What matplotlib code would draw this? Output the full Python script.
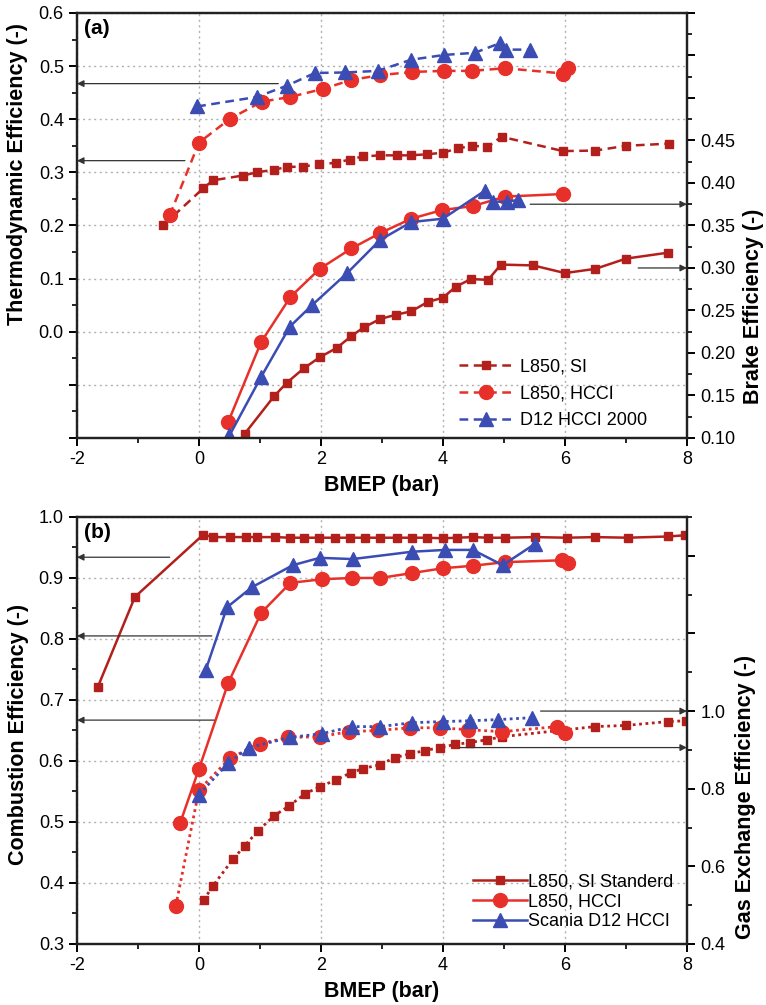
"""Thermodynamic / brake and combustion / gas-exchange efficiency vs BMEP."""
import matplotlib

matplotlib.use("Agg")
import matplotlib.pyplot as plt
from matplotlib.ticker import MultipleLocator, FuncFormatter

plt.rcParams["font.family"] = ["Liberation Sans", "DejaVu Sans"]

DARK_RED = "#b3201c"
RED = "#e8302a"
BLUE = "#3b4cb3"

# ---- panel (a): thermodynamic efficiency (left axis, dashed) ----
si_thermo_x = [-0.59, 0.07, 0.23, 0.72, 0.95, 1.23, 1.44, 1.70, 1.97, 2.24, 2.47, 2.69, 2.97,
               3.25, 3.47, 3.74, 4.00, 4.24, 4.48, 4.73, 4.96, 5.97, 6.50, 7.00, 7.70]
si_thermo_y = [0.200, 0.270, 0.285, 0.294, 0.300, 0.305, 0.310, 0.311, 0.315, 0.318, 0.324, 0.330,
               0.332, 0.332, 0.332, 0.334, 0.337, 0.345, 0.350, 0.348, 0.367, 0.340, 0.341, 0.350, 0.354]
hcci_thermo_x = [-0.48, 0.00, 0.51, 1.03, 1.50, 2.03, 2.50, 2.97, 3.50, 4.02, 4.48, 5.02, 5.97, 6.05]
hcci_thermo_y = [0.219, 0.356, 0.401, 0.433, 0.442, 0.457, 0.474, 0.483, 0.489, 0.491, 0.491, 0.496,
                 0.486, 0.497]
d12_thermo_x = [-0.03, 0.95, 1.44, 1.90, 2.40, 2.93, 3.48, 4.02, 4.52, 4.93, 5.03, 5.43]
d12_thermo_y = [0.424, 0.442, 0.463, 0.487, 0.488, 0.491, 0.512, 0.521, 0.525, 0.543, 0.531, 0.531]

# ---- panel (a): brake efficiency (right axis, solid) ----
si_brake_x = [0.75, 1.23, 1.44, 1.72, 1.98, 2.26, 2.50, 2.70, 2.97, 3.23, 3.48, 3.75, 4.00, 4.21,
              4.46, 4.74, 4.95, 5.48, 6.00, 6.50, 7.00, 7.69]
si_brake_y = [0.105, 0.149, 0.165, 0.182, 0.195, 0.206, 0.220, 0.230, 0.240, 0.245, 0.249, 0.260,
              0.265, 0.278, 0.287, 0.286, 0.304, 0.303, 0.294, 0.299, 0.311, 0.318]
hcci_brake_x = [0.48, 1.02, 1.50, 1.98, 2.50, 2.97, 3.48, 3.98, 4.50, 5.02, 5.97]
hcci_brake_y = [0.119, 0.213, 0.266, 0.299, 0.323, 0.341, 0.358, 0.368, 0.373, 0.384, 0.387]
d12_brake_x = [0.50, 1.02, 1.49, 1.85, 2.43, 2.97, 3.48, 4.00, 4.69, 4.82, 5.05, 5.23]
d12_brake_y = [0.103, 0.172, 0.231, 0.256, 0.294, 0.333, 0.354, 0.358, 0.391, 0.378, 0.378, 0.380]

# ---- panel (b): combustion efficiency (left axis, solid) ----
si_comb_x = [-1.66, -1.05, 0.07, 0.23, 0.51, 0.77, 0.95, 1.25, 1.49, 1.72, 1.97, 2.23, 2.48, 2.72,
             2.97, 3.25, 3.49, 3.74, 4.00, 4.23, 4.49, 4.74, 5.02, 5.51, 6.03, 6.50, 7.03, 7.69, 7.97]
si_comb_y = [0.721, 0.869, 0.971, 0.967, 0.967, 0.967, 0.967, 0.967, 0.966, 0.966, 0.966, 0.966,
             0.966, 0.966, 0.966, 0.966, 0.966, 0.966, 0.965, 0.966, 0.967, 0.966, 0.966, 0.967,
             0.966, 0.967, 0.966, 0.968, 0.970]
hcci_comb_x = [-0.31, 0.00, 0.48, 1.02, 1.50, 2.02, 2.51, 2.97, 3.49, 4.00, 4.49, 5.02, 5.95, 6.05]
hcci_comb_y = [0.498, 0.587, 0.728, 0.843, 0.892, 0.898, 0.900, 0.900, 0.908, 0.916, 0.920, 0.926,
               0.929, 0.924]
d12_comb_x = [0.11, 0.46, 0.87, 1.54, 1.98, 2.52, 3.49, 4.03, 4.49, 4.98, 5.51]
d12_comb_y = [0.749, 0.852, 0.885, 0.921, 0.933, 0.931, 0.943, 0.946, 0.946, 0.921, 0.956]

# ---- panel (b): gas exchange efficiency (right axis, dotted) ----
si_gas_x = [0.08, 0.23, 0.56, 0.75, 0.97, 1.23, 1.48, 1.74, 1.98, 2.25, 2.49, 2.69, 2.97, 3.21,
            3.46, 3.70, 3.95, 4.20, 4.44, 4.72, 4.97, 6.49, 7.00, 7.69, 7.98]
si_gas_y = [0.514, 0.550, 0.619, 0.653, 0.692, 0.730, 0.756, 0.787, 0.805, 0.823, 0.841, 0.852,
            0.862, 0.880, 0.890, 0.898, 0.906, 0.914, 0.919, 0.926, 0.934, 0.960, 0.963, 0.973, 0.975]
hcci_gas_x = [-0.38, 0.00, 0.51, 1.00, 1.46, 1.98, 2.46, 2.93, 3.46, 3.95, 4.41, 4.97, 5.87, 6.00]
hcci_gas_y = [0.498, 0.797, 0.879, 0.916, 0.932, 0.934, 0.947, 0.950, 0.957, 0.957, 0.952, 0.947,
              0.960, 0.944]
d12_gas_x = [0.00, 0.48, 0.82, 1.49, 2.02, 2.51, 2.97, 3.49, 4.00, 4.44, 4.90, 5.46]
d12_gas_y = [0.785, 0.866, 0.906, 0.932, 0.942, 0.960, 0.960, 0.970, 0.973, 0.975, 0.978, 0.983]

legend_a = ["L850, SI", "L850, HCCI", "D12 HCCI 2000"]
legend_b = ["L850, SI Standerd", "L850, HCCI", "Scania D12 HCCI"]

# arrows: (start x, y) pointing to left or right spine
arrows_a_left = [(1.30, 0.467), (-0.23, 0.322)]
arrows_a_right = [(5.43, 0.375), (7.20, 0.300)]
arrows_b_left = [(-0.48, 0.934), (0.21, 0.805), (0.25, 0.667)]
arrows_b_right = [(5.60, 1.000), (4.28, 0.906)]

SERIES_STYLE = [(DARK_RED, "s", 6), (RED, "o", 10), (BLUE, "^", 10)]
LABEL_FONT = dict(fontsize=15.5, fontweight="bold")


def style_axes(ax, ax2):
    for a in (ax, ax2):
        for sp in a.spines.values():
            sp.set_linewidth(1.6)
            sp.set_color("#222222")
        a.tick_params(which="major", direction="out", length=6, width=1.4, labelsize=13)
        a.tick_params(which="minor", direction="out", length=3.5, width=1.2)
    ax.set_xlim(-2, 8)
    ax.xaxis.set_major_locator(MultipleLocator(2))
    ax.xaxis.set_minor_locator(MultipleLocator(1))
    ax.xaxis.set_major_formatter(FuncFormatter(lambda v, p: f"{v:.0f}"))
    ax.grid(True, which="major", linestyle=(0, (1.5, 2.5)), color="#b0b0b0", linewidth=1.0)
    ax.set_xlabel("BMEP (bar)", **LABEL_FONT, labelpad=5)


def draw_arrows(ax, starts, x_end):
    for x0, y0 in starts:
        ax.annotate("", xy=(x_end, y0), xytext=(x0, y0), annotation_clip=False,
                    arrowprops=dict(arrowstyle="-|>", color="#333333", lw=0.9,
                                    mutation_scale=10, shrinkA=0, shrinkB=0))


fig = plt.figure(figsize=(7.66, 10.05), dpi=100)

# ---------------- (a) ----------------
ax = fig.add_axes([0.1005, 0.5642, 0.7963, 0.4229])
ax2 = ax.twinx()
style_axes(ax, ax2)

thermo = [(si_thermo_x, si_thermo_y), (hcci_thermo_x, hcci_thermo_y), (d12_thermo_x, d12_thermo_y)]
brake = [(si_brake_x, si_brake_y), (hcci_brake_x, hcci_brake_y), (d12_brake_x, d12_brake_y)]
handles = []
for (xs, ys), (c, m, ms), lab in zip(thermo, SERIES_STYLE, legend_a):
    h, = ax.plot(xs, ys, linestyle=(0, (3.5, 2.2)), color=c, marker=m, markersize=ms,
                 linewidth=1.8, label=lab)
    handles.append(h)
for (xs, ys), (c, m, ms) in zip(brake, SERIES_STYLE):
    ax2.plot(xs, ys, linestyle="-", color=c, marker=m, markersize=ms, linewidth=1.8)

ax.set_ylim(-0.2, 0.6)
ax.yaxis.set_major_locator(MultipleLocator(0.1))
ax.yaxis.set_minor_locator(MultipleLocator(0.05))
ax.yaxis.set_major_formatter(FuncFormatter(lambda v, p: f"{v:.1f}" if v > -0.05 else ""))
ax2.set_ylim(0.1, 0.6)
ax2.yaxis.set_major_locator(MultipleLocator(0.05))
ax2.yaxis.set_minor_locator(MultipleLocator(0.025))
ax2.yaxis.set_major_formatter(FuncFormatter(lambda v, p: f"{v:.2f}" if v < 0.47 else ""))
ax.set_ylabel("Thermodynamic Efficiency (-)", **LABEL_FONT)
ax2.set_ylabel("Brake Efficiency (-)", **LABEL_FONT)
ax.yaxis.set_label_coords(-0.080, 0.62)
ax2.yaxis.set_label_coords(1.092, 0.31)
ax.text(0.012, 0.985, "(a)", transform=ax.transAxes, ha="left", va="top",
        fontsize=15, fontweight="bold")
draw_arrows(ax, arrows_a_left, -2)
draw_arrows(ax2, arrows_a_right, 8)
ax2.legend(handles=handles, loc="lower right", bbox_to_anchor=(0.962, -0.018), frameon=False,
           fontsize=13, handlelength=3.0, labelspacing=0.55, handletextpad=0.4)

# ---------------- (b) ----------------
bx = fig.add_axes([0.1005, 0.0607, 0.7963, 0.4249])
bx2 = bx.twinx()
style_axes(bx, bx2)

comb = [(si_comb_x, si_comb_y), (hcci_comb_x, hcci_comb_y), (d12_comb_x, d12_comb_y)]
gas = [(si_gas_x, si_gas_y), (hcci_gas_x, hcci_gas_y), (d12_gas_x, d12_gas_y)]
handles = []
for (xs, ys), (c, m, ms), lab in zip(comb, SERIES_STYLE, legend_b):
    h, = bx.plot(xs, ys, linestyle="-", color=c, marker=m, markersize=ms, linewidth=1.8, label=lab)
    handles.append(h)
for (xs, ys), (c, m, ms) in zip(gas, SERIES_STYLE):
    bx2.plot(xs, ys, linestyle=(0, (1, 1.3)), color=c, marker=m, markersize=ms, linewidth=2.0)

bx.set_ylim(0.3, 1.0)
bx.yaxis.set_major_locator(MultipleLocator(0.1))
bx.yaxis.set_minor_locator(MultipleLocator(0.05))
bx.yaxis.set_major_formatter(FuncFormatter(lambda v, p: f"{v:.1f}"))
bx2.set_ylim(0.4, 1.5)
bx2.yaxis.set_major_locator(MultipleLocator(0.2))
bx2.yaxis.set_minor_locator(MultipleLocator(0.1))
bx2.yaxis.set_major_formatter(FuncFormatter(lambda v, p: f"{v:.1f}" if v < 1.05 else ""))
bx.set_ylabel("Combustion Efficiency (-)", **LABEL_FONT)
bx2.set_ylabel("Gas Exchange Efficiency (-)", **LABEL_FONT)
bx.yaxis.set_label_coords(-0.078, 0.49)
bx2.yaxis.set_label_coords(1.078, 0.345)
bx.text(0.012, 0.985, "(b)", transform=bx.transAxes, ha="left", va="top",
        fontsize=15, fontweight="bold")
draw_arrows(bx, arrows_b_left, -2)
draw_arrows(bx2, arrows_b_right, 8)
bx2.legend(handles=handles, loc="lower right", bbox_to_anchor=(1.005, -0.005), frameon=False,
           fontsize=13, handlelength=3.0, labelspacing=0.15, handletextpad=0.1)

fig.savefig("out.png", dpi=100)
